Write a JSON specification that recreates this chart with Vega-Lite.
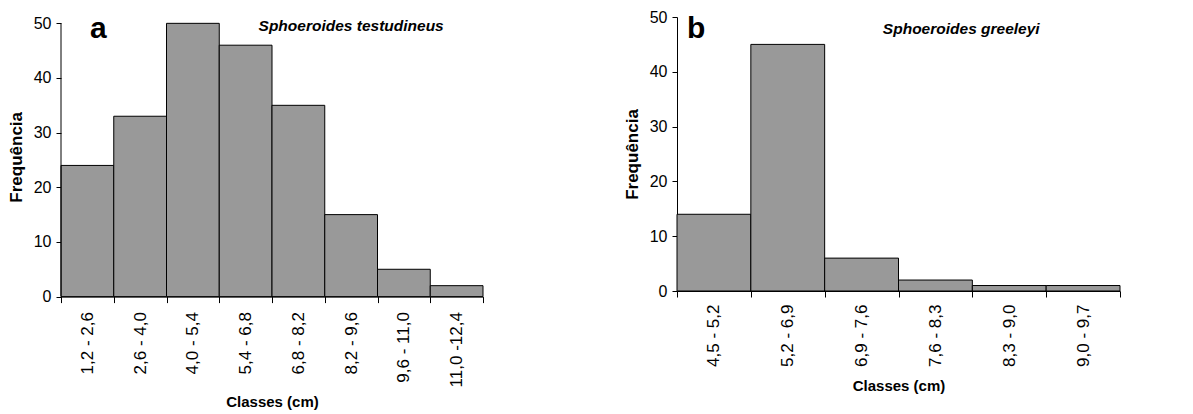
{
  "$schema": "https://vega.github.io/schema/vega-lite/v6.json",
  "background": "white",
  "padding": {"left": 7, "top": 9, "right": 5, "bottom": 5},
  "spacing": 139,
  "datasets": {
    "a": [
      {"classe": "1,2 - 2,6", "freq": 24},
      {"classe": "2,6 - 4,0", "freq": 33},
      {"classe": "4,0 - 5,4", "freq": 50},
      {"classe": "5,4 - 6,8", "freq": 46},
      {"classe": "6,8 - 8,2", "freq": 35},
      {"classe": "8,2 - 9,6", "freq": 15},
      {"classe": "9,6 - 11,0", "freq": 5},
      {"classe": "11,0 -12,4", "freq": 2}
    ],
    "b": [
      {"classe": "4,5 - 5,2", "freq": 14},
      {"classe": "5,2 - 6,9", "freq": 45},
      {"classe": "6,9 - 7,6", "freq": 6},
      {"classe": "7,6 - 8,3", "freq": 2},
      {"classe": "8,3 - 9,0", "freq": 1},
      {"classe": "9,0 - 9,7", "freq": 1}
    ],
    "la": [{"classe": "1,2 - 2,6", "t": "a"}],
    "sa": [{"classe": "8,2 - 9,6", "t": "Sphoeroides testudineus"}],
    "lb": [{"classe": "4,5 - 5,2", "t": "b"}],
    "sb": [{"classe": "7,6 - 8,3", "t": "Sphoeroides greeleyi"}]
  },
  "config": {
    "view": {"stroke": null}
  },
  "hconcat": [
    {
      "width": 422,
      "height": 279.6,
      "layer": [
        {"data": {"name": "a"},
          "mark": {"type": "bar", "color": "#999999", "stroke": "black", "strokeWidth": 1},
          "encoding": {
            "x": {"field": "classe", "type": "nominal",
              "scale": {"domain": ["1,2 - 2,6", "2,6 - 4,0", "4,0 - 5,4", "5,4 - 6,8", "6,8 - 8,2", "8,2 - 9,6", "9,6 - 11,0", "11,0 -12,4"], "paddingInner": 0, "paddingOuter": 0},
              "axis": {"title": "Classes (cm)", "labelAngle": -90, "tickBand": "extent", "tickSize": 6, "labelPadding": 9, "titlePadding": 8,
                "domainColor": "black", "tickColor": "black", "labelColor": "black", "titleColor": "black",
                "labelFont": "Liberation Sans", "labelFontSize": 17, "titleFont": "Liberation Sans", "titleFontSize": 15, "titleFontWeight": "bold", "grid": false}},
            "y": {"field": "freq", "type": "quantitative",
              "scale": {"domain": [0, 51.16], "nice": false},
              "axis": {"title": "Frequência", "values": [0, 10, 20, 30, 40, 50], "tickSize": 5, "labelPadding": 5, "titlePadding": 8, "domain": false,
                "tickColor": "black", "labelColor": "black", "titleColor": "black",
                "labelFont": "Liberation Sans", "labelFontSize": 16, "titleFont": "Liberation Sans", "titleFontSize": 17, "titleFontWeight": "bold", "grid": false}}
          }},
        {"data": {"name": "la"},
          "mark": {"type": "rule", "color": "black", "strokeWidth": 1},
          "encoding": {"x": {"field": "classe", "type": "nominal", "bandPosition": 0}, "y": {"datum": 0, "type": "quantitative"}, "y2": {"datum": 50}}},
        {"data": {"name": "la"},
          "mark": {"type": "text", "font": "Liberation Sans", "fontSize": 30, "fontWeight": "bold", "align": "left", "baseline": "alphabetic", "dx": 29, "color": "black"},
          "encoding": {"x": {"field": "classe", "type": "nominal", "bandPosition": 0}, "y": {"datum": 47.4, "type": "quantitative"}, "text": {"field": "t", "type": "nominal"}}},
        {"data": {"name": "sa"},
          "mark": {"type": "text", "font": "Liberation Sans", "fontSize": 15.5, "fontWeight": "bold", "fontStyle": "italic", "align": "center", "baseline": "middle", "color": "black"},
          "encoding": {"x": {"field": "classe", "type": "nominal"}, "y": {"datum": 49.6, "type": "quantitative"}, "text": {"field": "t", "type": "nominal"}}}
      ]
    },
    {
      "width": 443,
      "height": 274,
      "layer": [
        {"data": {"name": "b"},
          "mark": {"type": "bar", "color": "#999999", "stroke": "black", "strokeWidth": 1},
          "encoding": {
            "x": {"field": "classe", "type": "nominal",
              "scale": {"domain": ["4,5 - 5,2", "5,2 - 6,9", "6,9 - 7,6", "7,6 - 8,3", "8,3 - 9,0", "9,0 - 9,7"], "paddingInner": 0, "paddingOuter": 0},
              "axis": {"title": "Classes (cm)", "labelAngle": -90, "tickBand": "extent", "tickSize": 6, "labelPadding": 7, "titlePadding": 12,
                "domainColor": "black", "tickColor": "black", "labelColor": "black", "titleColor": "black",
                "labelFont": "Liberation Sans", "labelFontSize": 17, "titleFont": "Liberation Sans", "titleFontSize": 15, "titleFontWeight": "bold", "grid": false}},
            "y": {"field": "freq", "type": "quantitative",
              "scale": {"domain": [0, 50], "nice": false},
              "axis": {"title": "Frequência", "values": [0, 10, 20, 30, 40, 50], "tickSize": 5, "labelPadding": 5, "titlePadding": 8,
                "domainColor": "black", "tickColor": "black", "labelColor": "black", "titleColor": "black",
                "labelFont": "Liberation Sans", "labelFontSize": 16, "titleFont": "Liberation Sans", "titleFontSize": 17, "titleFontWeight": "bold", "grid": false}}
          }},
        {"data": {"name": "lb"},
          "mark": {"type": "text", "font": "Liberation Sans", "fontSize": 30, "fontWeight": "bold", "align": "left", "baseline": "alphabetic", "dx": 10, "color": "black"},
          "encoding": {"x": {"field": "classe", "type": "nominal", "bandPosition": 0}, "y": {"datum": 46.1, "type": "quantitative"}, "text": {"field": "t", "type": "nominal"}}},
        {"data": {"name": "sb"},
          "mark": {"type": "text", "font": "Liberation Sans", "fontSize": 15.5, "fontWeight": "bold", "fontStyle": "italic", "align": "center", "baseline": "middle", "color": "black"},
          "encoding": {"x": {"field": "classe", "type": "nominal", "bandPosition": 0.85}, "y": {"datum": 47.9, "type": "quantitative"}, "text": {"field": "t", "type": "nominal"}}}
      ]
    }
  ]
}
